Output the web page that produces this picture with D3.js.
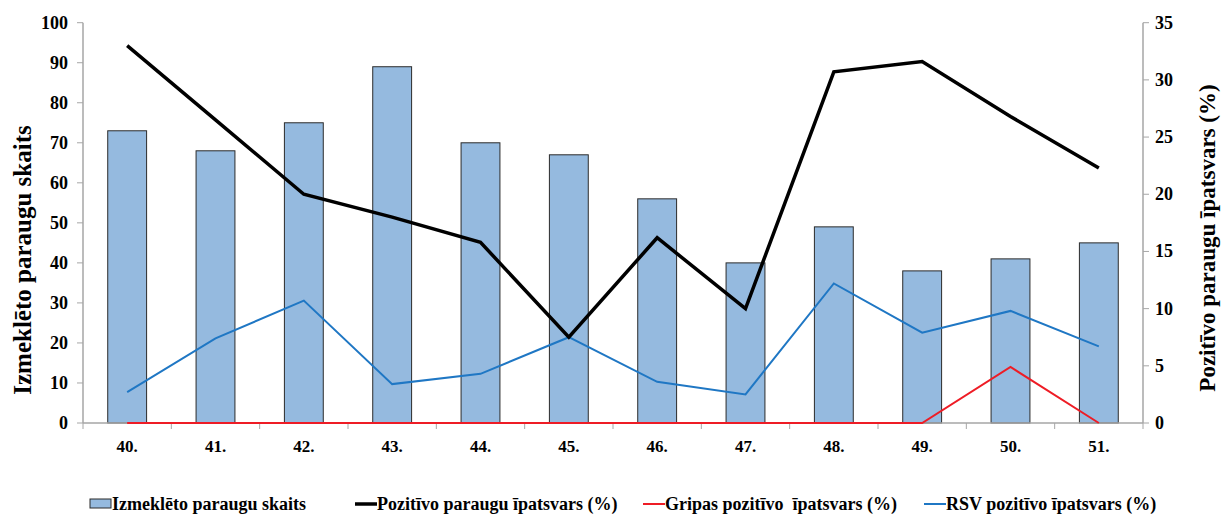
<!DOCTYPE html>
<html><head><meta charset="utf-8">
<script src="https://cdn.jsdelivr.net/npm/d3@7"></script>
<style>body{margin:0;background:#fff}svg{display:block}text{font-family:"Liberation Serif","Times New Roman",serif;font-weight:bold;fill:#000}</style>
</head><body><svg id="c" width="1221" height="515"></svg>
<script>
const weeks = ["40.","41.","42.","43.","44.","45.","46.","47.","48.","49.","50.","51."];
const samples = [73,68,75,89,70,67,56,40,49,38,41,45];
const positiveShare = [33.0,26.5,20.0,18.0,15.8,7.5,16.2,10.0,30.7,31.6,26.8,22.3];
const fluShare = [0,0,0,0,0,0,0,0,0,0,4.9,0];
const rsvShare = [2.7,7.4,10.7,3.4,4.3,7.5,3.6,2.5,12.2,7.9,9.8,6.7];
const leftTicks = [0,10,20,30,40,50,60,70,80,90,100];
const rightTicks = [0,5,10,15,20,25,30,35];
const legendLabels = ["Izmeklēto paraugu skaits","Pozitīvo paraugu īpatsvars (%)","Gripas pozitīvo  īpatsvars (%)","RSV pozitīvo īpatsvars (%)"];

const svg = d3.select("#c");
const L = 83, R = 1143, T = 22.7, B = 423;
const x = d3.scaleBand().domain(weeks).range([L, R]).paddingInner(0).paddingOuter(0);
const yL = d3.scaleLinear().domain([0,100]).range([B, T]);
const yR = d3.scaleLinear().domain([0,35]).range([B, T]);
const grey = "#a6a6a6";

// bars
const bw = x.bandwidth()*0.44;
svg.append("g").selectAll("rect").data(samples).join("rect")
  .attr("x",(d,i)=>x(weeks[i])+x.bandwidth()/2-bw/2)
  .attr("y",d=>yL(d)).attr("width",bw).attr("height",d=>B-yL(d))
  .attr("fill","#95badf").attr("stroke","#2b2b2b").attr("stroke-width",1);

// axes
const gx = svg.append("g").attr("transform",`translate(0,${B})`);
gx.append("line").attr("x1",L).attr("x2",R).attr("stroke",grey).attr("stroke-width",1.5);
const bounds = weeks.map(w=>x(w)).concat([R]);
gx.selectAll("line.t").data(bounds).join("line").attr("class","t")
  .attr("x1",d=>d).attr("x2",d=>d).attr("y1",0).attr("y2",6).attr("stroke",grey);
gx.selectAll("text").data(weeks).join("text")
  .attr("x",d=>x(d)+x.bandwidth()/2).attr("y",29).attr("text-anchor","middle")
  .style("font-size","17px").text(d=>d);

const gl = svg.append("g");
gl.append("line").attr("x1",L).attr("x2",L).attr("y1",T).attr("y2",B).attr("stroke",grey).attr("stroke-width",1.5);
gl.selectAll("line.t").data(leftTicks).join("line").attr("class","t")
  .attr("x1",L-6).attr("x2",L).attr("y1",d=>yL(d)).attr("y2",d=>yL(d)).attr("stroke",grey);
gl.selectAll("text").data(leftTicks).join("text")
  .attr("x",L-15).attr("y",d=>yL(d)+6).attr("text-anchor","end")
  .style("font-size","18px").text(d=>d);

const gr = svg.append("g");
gr.append("line").attr("x1",R).attr("x2",R).attr("y1",T).attr("y2",B).attr("stroke",grey).attr("stroke-width",1.5);
gr.selectAll("line.t").data(rightTicks).join("line").attr("class","t")
  .attr("x1",R).attr("x2",R+6).attr("y1",d=>yR(d)).attr("y2",d=>yR(d)).attr("stroke",grey);
gr.selectAll("text").data(rightTicks).join("text")
  .attr("x",R+12).attr("y",d=>yR(d)+6).attr("text-anchor","start")
  .style("font-size","18px").text(d=>d);

// axis titles
svg.append("text").attr("transform",`translate(31,260) rotate(-90)`)
  .attr("text-anchor","middle").style("font-size","25px").text("Izmeklēto paraugu skaits");
svg.append("text").attr("transform",`translate(1215,238) rotate(-90)`)
  .attr("text-anchor","middle").style("font-size","23px").text("Pozitīvo paraugu īpatsvars (%)");

// lines
const cx = i => x(weeks[i]) + x.bandwidth()/2;
const line = d3.line().x((d,i)=>cx(i)).y(d=>yR(d));
svg.append("path").datum(rsvShare).attr("d",line).attr("fill","none").attr("stroke","#1f77c4").attr("stroke-width",2);
svg.append("path").datum(fluShare).attr("d",line).attr("fill","none").attr("stroke","#ee1c25").attr("stroke-width",2);
svg.append("path").datum(positiveShare).attr("d",line).attr("fill","none").attr("stroke","#000").attr("stroke-width",3.5);

// legend
const lg = svg.append("g").attr("transform","translate(0,504)");
const legendStarts = [90, 355, 643, 924];
const legendColors = [null,"#000","#ee1c25","#1f77c4"];
const legendWidths = [0,3.5,2,2];
legendLabels.forEach((lab,i)=>{
  const x0 = legendStarts[i];
  if(i===0){
    lg.append("rect").attr("x",x0).attr("y",-5).attr("width",21).attr("height",9)
      .attr("fill","#95badf").attr("stroke","#2b2b2b").attr("stroke-width",1);
  } else {
    lg.append("line").attr("x1",x0).attr("x2",x0+22).attr("y1",0).attr("y2",0)
      .attr("stroke",legendColors[i]).attr("stroke-width",legendWidths[i]);
  }
  lg.append("text").attr("x",x0+22).attr("y",6).style("font-size","18px").style("white-space","pre")
    .attr("xml:space","preserve").text(lab);
});
</script></body></html>
